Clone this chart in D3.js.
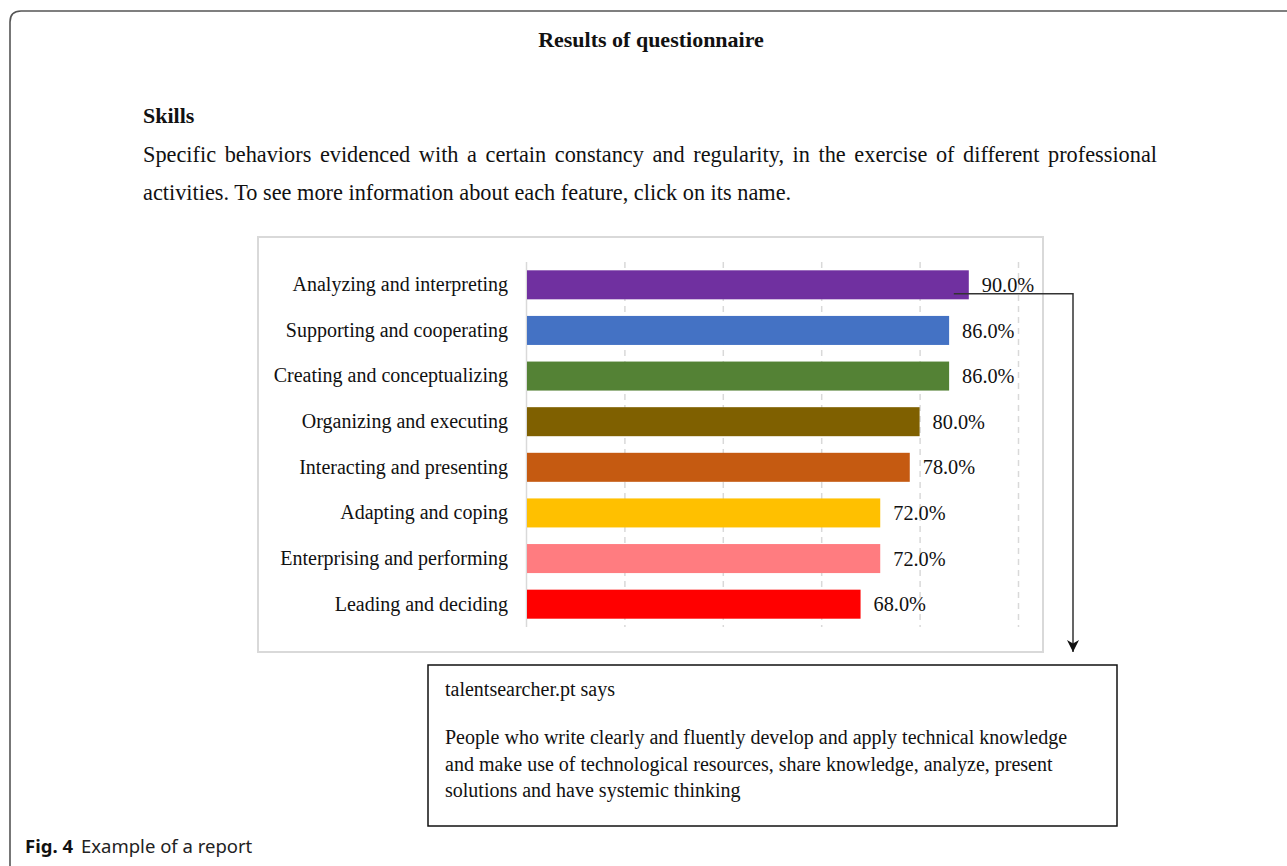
<!DOCTYPE html>
<html>
<head>
<meta charset="utf-8">
<script src="https://cdn.jsdelivr.net/npm/d3@7"></script>
<style>
  body { margin: 0; background: #fff; }
  svg text { font-family: "Liberation Serif", "Times New Roman", serif; fill: #111; }
</style>
</head>
<body>
<svg id="chart" width="1287" height="866"></svg>
<script>
// data
var skills = ["Analyzing and interpreting", "Supporting and cooperating", "Creating and conceptualizing",
              "Organizing and executing", "Interacting and presenting", "Adapting and coping",
              "Enterprising and performing", "Leading and deciding"];
var percents = [90, 86, 86, 80, 78, 72, 72, 68];
var barColors = ["#7030A0", "#4472C4", "#548235", "#7F6000", "#C55A11", "#FFC000", "#FF7C80", "#FF0000"];
var gridTicks = [0, 20, 40, 60, 80, 100];

var pageTitle = "Results of questionnaire";
var sectionTitle = "Skills";
var introLines = ["Specific behaviors evidenced with a certain constancy and regularity, in the exercise of different professional",
                  "activities. To see more information about each feature, click on its name."];
var popupTitle = "talentsearcher.pt says";
var popupLines = ["People who write clearly and fluently develop and apply technical knowledge",
                  "and make use of technological resources, share knowledge, analyze, present",
                  "solutions and have systemic thinking"];

var svg = d3.select("#chart");

// outer rounded frame (runs off right and bottom)
svg.append("path")
   .attr("d", "M10,870 L10,22 Q10,11 21,11 L1295,11")
   .attr("fill", "none").attr("stroke", "#555").attr("stroke-width", 1.6);

svg.append("text").attr("x", 651).attr("y", 47).attr("text-anchor", "middle")
   .attr("font-size", 22).attr("font-weight", "bold").text(pageTitle);

svg.append("text").attr("x", 143).attr("y", 123)
   .attr("font-size", 22).attr("font-weight", "bold").text(sectionTitle);

// intro paragraph, first line justified
introLines.forEach(function(line, i){
    var t = svg.append("text").attr("x", 143).attr("y", 162 + i*37.5)
               .attr("font-size", 22.3).text(line);
    if(i == 0){
        var natural = t.node().getComputedTextLength();
        var spaces = line.split(" ").length - 1;
        t.attr("word-spacing", ((1157 - 143) - natural) / spaces);
    }
});

// chart frame
var frame = {left: 258, top: 237, right: 1043, bottom: 652};
svg.append("rect").attr("x", frame.left).attr("y", frame.top)
   .attr("width", frame.right - frame.left).attr("height", frame.bottom - frame.top)
   .attr("fill", "#fff").attr("stroke", "#d9d9d9").attr("stroke-width", 2);

var x = d3.scaleLinear().domain([0, 100]).range([526, 1018]);
var y = d3.scaleBand().domain(skills).range([262, 627]).paddingInner(0.364).paddingOuter(0.182);

// gridlines
var grid = svg.append("g").attr("transform", "translate(0,262)")
   .call(d3.axisBottom(x).tickValues(gridTicks).tickSize(627 - 262).tickFormat(""));
grid.select(".domain").remove();
grid.selectAll(".tick line")
    .attr("stroke", "#d9d9d9").attr("stroke-width", 1.5)
    .attr("stroke-dasharray", function(d){ return d == 0 ? null : "6,5"; });

// category labels
var yAxis = svg.append("g").attr("transform", "translate(526,0)")
   .call(d3.axisLeft(y).tickSize(0).tickPadding(18));
yAxis.select(".domain").remove();
yAxis.selectAll("text").attr("font-family", "Liberation Serif, serif")
     .attr("font-size", 20).attr("fill", "#111").attr("dy", "0.32em");

var rows = skills.map(function(s, i){ return {name: s, value: percents[i], color: barColors[i]}; });

svg.selectAll(".bar").data(rows).enter().append("rect")
   .attr("class", "bar")
   .attr("x", x(0) + 1)
   .attr("y", function(d){ return y(d.name); })
   .attr("width", function(d){ return x(d.value) - x(0) - 1; })
   .attr("height", y.bandwidth())
   .attr("fill", function(d){ return d.color; });

svg.selectAll(".val").data(rows).enter().append("text")
   .attr("class", "val")
   .attr("x", function(d){ return x(d.value) + 13; })
   .attr("y", function(d){ return y(d.name) + y.bandwidth()/2; })
   .attr("dy", "0.35em")
   .attr("font-size", 20.3)
   .text(function(d){ return d.value.toFixed(1) + "%"; });

// connector arrow from the first bar to the popup
svg.append("defs").append("marker").attr("id", "arrow")
   .attr("viewBox", "0 0 10 10").attr("refX", 10).attr("refY", 5)
   .attr("markerWidth", 12).attr("markerHeight", 14).attr("orient", "auto")
   .attr("markerUnits", "userSpaceOnUse")
   .append("path").attr("d", "M0,0 L10,5 L0,10 L3,5 Z").attr("fill", "#111");

var first = rows[0];
var cy = y(first.name) + y.bandwidth()/2 + 9;
svg.append("path")
   .attr("d", "M" + (x(first.value) - 15) + "," + cy + " H1073 V652")
   .attr("fill", "none").attr("stroke", "#333").attr("stroke-width", 1.5)
   .attr("marker-end", "url(#arrow)");

// popup box
svg.append("rect").attr("x", 428).attr("y", 665).attr("width", 689).attr("height", 161)
   .attr("fill", "#fff").attr("stroke", "#111").attr("stroke-width", 1.5);

svg.append("text").attr("x", 445).attr("y", 696).attr("font-size", 20).text(popupTitle);
popupLines.forEach(function(line, i){
    svg.append("text").attr("x", 445).attr("y", 744 + i*26.5).attr("font-size", 20).text(line);
});

// caption
var cap = svg.append("text").attr("x", 25).attr("y", 853)
   .style("font-family", "'Noto Sans', 'Open Sans', sans-serif").attr("font-size", 18.5);
cap.append("tspan").attr("font-weight", "bold").text("Fig. 4");
cap.append("tspan").attr("dx", 8).attr("fill", "#222").text("Example of a report");
</script>
</body>
</html>
